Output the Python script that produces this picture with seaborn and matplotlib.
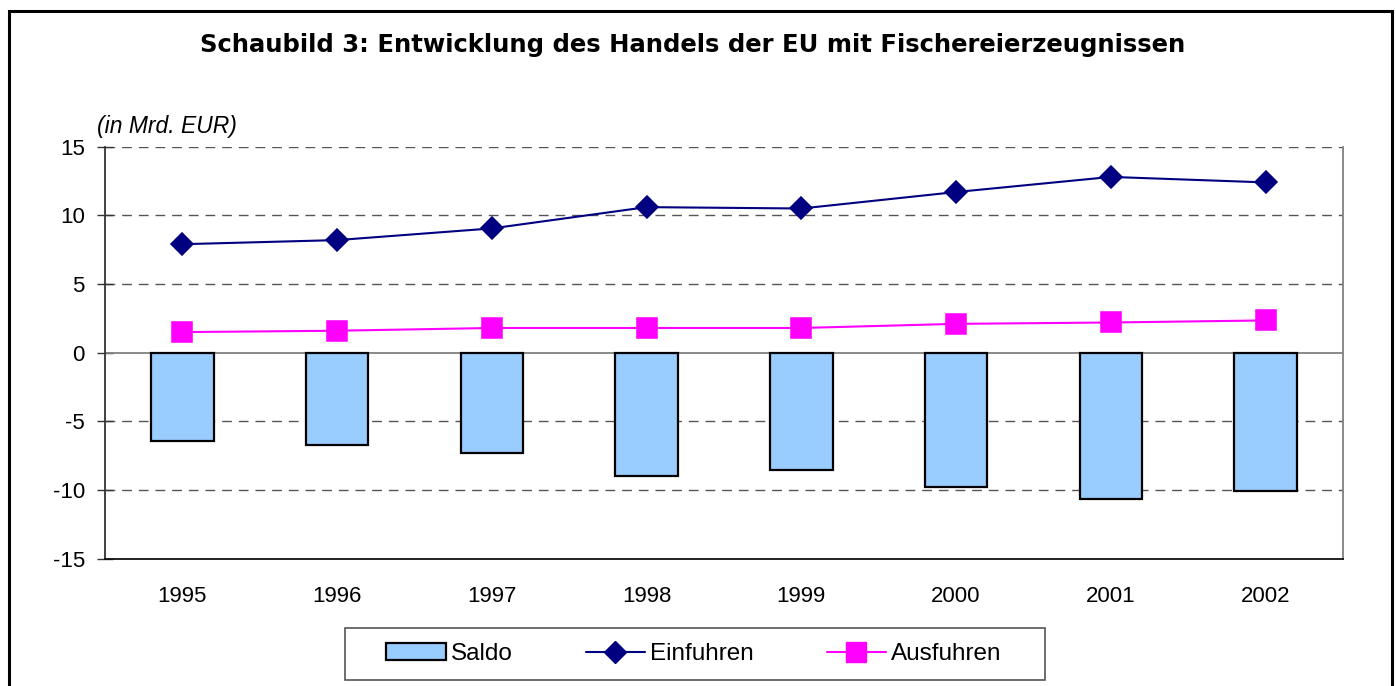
import matplotlib
matplotlib.use("Agg")
import matplotlib.pyplot as plt
import seaborn as sns
import pandas as pd
from matplotlib.lines import Line2D
from matplotlib.patches import Patch, Rectangle

years = ["1995", "1996", "1997", "1998", "1999", "2000", "2001", "2002"]
saldo = [-6.4, -6.7, -7.3, -9.0, -8.55, -9.8, -10.65, -10.05]
einfuhren = [7.9, 8.2, 9.05, 10.6, 10.5, 11.7, 12.8, 12.4]
ausfuhren = [1.5, 1.6, 1.8, 1.8, 1.8, 2.1, 2.2, 2.35]
yticks = [-15, -10, -5, 0, 5, 10, 15]

sns.set_theme(style="white")
plt.rcParams['font.family'] = ['Liberation Sans', 'DejaVu Sans']
plt.rcParams['text.color'] = 'black'
plt.rcParams['xtick.color'] = 'black'
plt.rcParams['ytick.color'] = 'black'

df = pd.DataFrame({"Jahr": years, "Saldo": saldo, "Einfuhren": einfuhren, "Ausfuhren": ausfuhren})

W, H = 1396, 686
fig = plt.figure(figsize=(W / 100, H / 100), dpi=100)
ax = fig.add_axes([105 / W, 1 - 558.7 / H, (1343 - 105) / W, (558.7 - 146.7) / H])

# grid lines
for v in [-10, -5, 5, 10, 15]:
    ax.axhline(v, color="#555555", lw=1.0, ls=(0, (7, 5)), zorder=0)
ax.axhline(0, color="#808080", lw=1.3, zorder=1)

sns.barplot(data=df, x="Jahr", y="Saldo", color="#99CCFF", edgecolor="black",
            linewidth=1.6, width=0.405, saturation=1, ax=ax, zorder=2)
sns.pointplot(data=df, x="Jahr", y="Einfuhren", color="#000080", markers="D",
              markersize=11, linewidth=1.5, ax=ax, zorder=3)
sns.pointplot(data=df, x="Jahr", y="Ausfuhren", color="#FF00FF", markers="s",
              markersize=15, linewidth=1.5, ax=ax, zorder=3)

ax.set_xlim(-0.5, len(years) - 0.5)
ax.set_ylim(-15, 15)
ax.set_yticks(yticks)
ax.set_yticklabels([str(t) for t in yticks], fontsize=16)
ax.set_xticks(range(len(years)))
ax.set_xticklabels(years, fontsize=16)
ax.set_xlabel("")
ax.set_ylabel("")
ax.tick_params(axis="y", which="both", left=True, direction="inout", length=11,
               width=1, color="#333333", pad=9)
ax.tick_params(axis="x", bottom=False, pad=14)

for s in ["left", "bottom"]:
    ax.spines[s].set_visible(True)
    ax.spines[s].set_linewidth(1.3)
ax.spines["left"].set_color("#333333")
ax.spines["bottom"].set_color("#111111")
ax.spines["right"].set_visible(True)
ax.spines["right"].set_color("#808080")
ax.spines["right"].set_linewidth(1.3)
ax.spines["top"].set_visible(False)

fig.text(693 / W, 1 - 52 / H, "Schaubild 3: Entwicklung des Handels der EU mit Fischereierzeugnissen",
         ha="center", va="baseline", fontsize=17.5, fontweight="bold",
         family=["DejaVu Sans"])
fig.text(97 / W, 1 - 133 / H, "(in Mrd. EUR)", ha="left", va="baseline", fontsize=16.5, style="italic")

handles = [
    Patch(facecolor="#99CCFF", edgecolor="black", linewidth=1.6),
    Line2D([0], [0], color="#000080", marker="D", markersize=11, lw=1.5),
    Line2D([0], [0], color="#FF00FF", marker="s", markersize=15, lw=1.5),
]
leg = fig.legend(handles, ["Saldo", "Einfuhren", "Ausfuhren"], loc="center",
                 bbox_to_anchor=(694 / W, 1 - 654 / H), ncol=3, fontsize=17.5,
                 frameon=False,
                 handlelength=2.45, handletextpad=0.2, columnspacing=3.0,
                 borderpad=0.45, borderaxespad=0)

# legend box
fig.patches.append(Rectangle((345 / W, 1 - 680 / H), (1045 - 345) / W, (680 - 628) / H,
                             transform=fig.transFigure, fill=False, edgecolor="#555555", lw=1.2))

# outer chart frame
fig.patches.append(Rectangle((8.5 / W, -0.02), (1392 - 8.5) / W, 1.02 - 11 / H,
                             transform=fig.transFigure, fill=False, edgecolor="black", lw=2.2))

fig.savefig("out.png", dpi=100)
